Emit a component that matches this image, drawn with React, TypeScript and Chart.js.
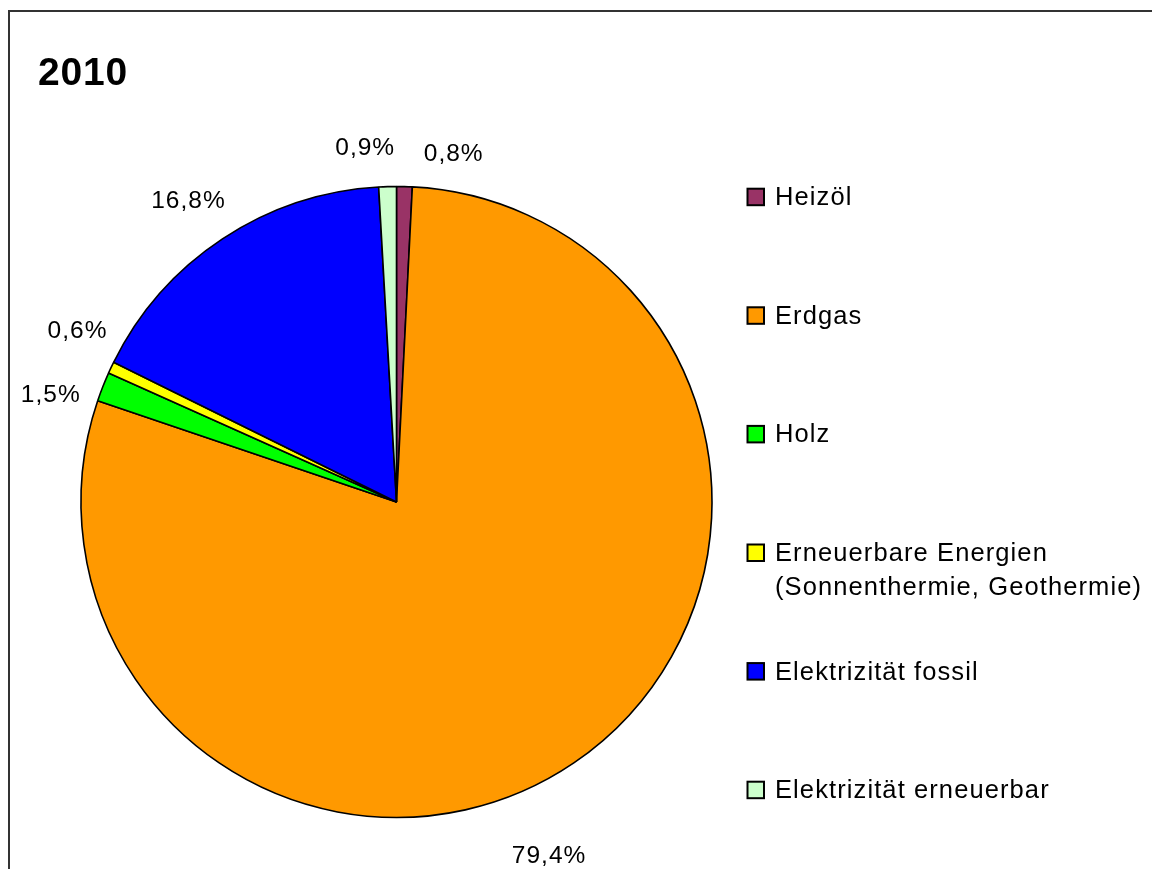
import React, { useEffect, useRef } from "react";
import { Chart, registerables } from "chart.js";

Chart.register(...registerables);

const chartTitle = "2010";
const categories: string[][] = [
  ["Heizöl"],
  ["Erdgas"],
  ["Holz"],
  ["Erneuerbare Energien", "(Sonnenthermie, Geothermie)"],
  ["Elektrizität fossil"],
  ["Elektrizität erneuerbar"],
];
const shares = [0.8, 79.4, 1.5, 0.6, 16.8, 0.9];
const sliceColors = ["#993366", "#FF9900", "#00FF00", "#FFFF00", "#0000FF", "#CCFFCC"];

const fmt = (v: number) => v.toFixed(1).replace(".", ",") + "%";

// label placement relative to each arc (angle nudge in degrees, gap beyond radius in px)
const labelPlacement = [
  { dAngle: 7.8, gap: 37.5 },
  { dAngle: 10.9, gap: 69 },
  { dAngle: -4.2, gap: 47 },
  { dAngle: 3.0, gap: 47 },
  { dAngle: -1.2, gap: 51 },
  { dAngle: -3.5, gap: 40.5 },
];

const FONT = "'Liberation Sans', Arial, Helvetica, sans-serif";

const decorPlugin = {
  id: "decor",
  afterDraw(chart: any) {
    const ctx = chart.ctx;
    const meta = chart.getDatasetMeta(0);
    ctx.save();
    // title
    ctx.fillStyle = "#000";
    ctx.font = `bold 39px ${FONT}`;
    (ctx as any).letterSpacing = "0.8px";
    ctx.textAlign = "left";
    ctx.textBaseline = "alphabetic";
    ctx.fillText(chartTitle, 28, 73);

    // value labels
    ctx.font = `24.5px ${FONT}`;
    (ctx as any).letterSpacing = "1px";
    ctx.textAlign = "center";
    ctx.textBaseline = "middle";
    meta.data.forEach((arc: any, i: number) => {
      const p = arc.getProps(["x", "y", "startAngle", "endAngle", "outerRadius"], true);
      const mid = (p.startAngle + p.endAngle) / 2 + (labelPlacement[i].dAngle * Math.PI) / 180;
      const d = p.outerRadius + labelPlacement[i].gap;
      ctx.fillText(fmt(shares[i]), p.x + Math.cos(mid) * d + 0.5, p.y + Math.sin(mid) * d + 1);
    });

    // legend
    const lx = 737;
    const y0 = 184.7;
    const step = 118.6;
    ctx.font = `25.5px ${FONT}`;
    (ctx as any).letterSpacing = "1.1px";
    ctx.textAlign = "left";
    ctx.textBaseline = "alphabetic";
    categories.forEach((lines, i) => {
      const cy = y0 + i * step;
      ctx.fillStyle = sliceColors[i];
      ctx.fillRect(lx, cy - 8.5, 17, 17);
      ctx.strokeStyle = "#000";
      ctx.lineWidth = 2;
      ctx.strokeRect(lx + 0.5, cy - 8, 16.5, 16.5);
      ctx.fillStyle = "#000";
      lines.forEach((t, j) => {
        ctx.fillText(t, 765, cy + 8.5 + j * 33.5);
      });
    });
    ctx.restore();
  },
};

export default function App() {
  const ref = useRef<HTMLCanvasElement | null>(null);
  useEffect(() => {
    document.body.style.overflow = "hidden";
    if (!ref.current) return;
    const chart = new Chart(ref.current, {
      type: "pie",
      data: {
        labels: categories,
        datasets: [
          {
            data: shares,
            backgroundColor: sliceColors,
            borderColor: "#000",
            borderWidth: 1.6,
            radius: 315.5,
          } as any,
        ],
      },
      options: {
        animation: false,
        responsive: true,
        maintainAspectRatio: false,
        layout: { padding: { left: 0, right: 379, top: 123, bottom: 0 } },
        plugins: {
          legend: { display: false },
          title: { display: false },
          tooltip: { enabled: false },
        },
      },
      plugins: [decorPlugin],
    });
    return () => chart.destroy();
  }, []);
  return (
    <div style={{ paddingTop: 2 }}>
      <div
        style={{
          width: 1152,
          height: 857,
          borderLeft: "2px solid #333",
          borderTop: "2px solid #333",
          position: "relative",
        }}
      >
        <canvas ref={ref} />
      </div>
    </div>
  );
}
